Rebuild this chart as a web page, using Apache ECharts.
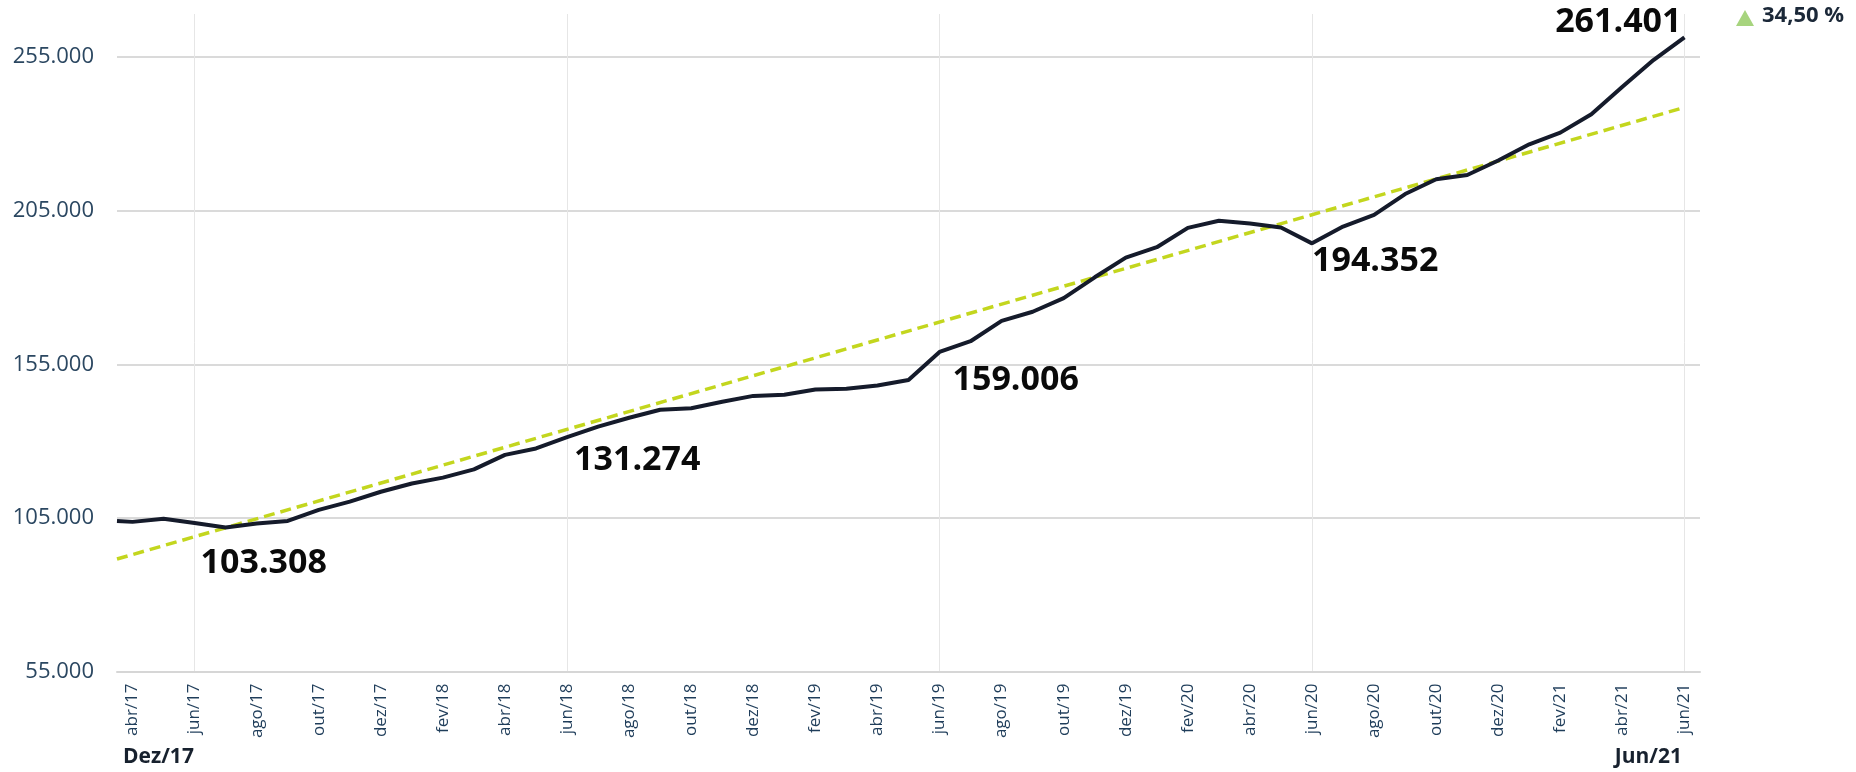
<!DOCTYPE html>
<html><head><meta charset="utf-8">
<script src="https://cdn.jsdelivr.net/npm/echarts@6/dist/echarts.min.js"></script>
<style>html,body{margin:0;padding:0;background:#fff;}#chart{width:1856px;height:772px;}</style>
</head><body><div id="chart"></div>
<script>
// ---- data ----
const categories = ['abr/17','mai/17','jun/17','jul/17','ago/17','set/17','out/17','nov/17','dez/17',
  'jan/18','fev/18','mar/18','abr/18','mai/18','jun/18','jul/18','ago/18','set/18','out/18','nov/18','dez/18',
  'jan/19','fev/19','mar/19','abr/19','mai/19','jun/19','jul/19','ago/19','set/19','out/19','nov/19','dez/19',
  'jan/20','fev/20','mar/20','abr/20','mai/20','jun/20','jul/20','ago/20','set/20','out/20','nov/20','dez/20',
  'jan/21','fev/21','mar/21','abr/21','mai/21','jun/21'];
const values = [103700,104700,103308,101900,103200,104000,107600,110300,113500,
  116200,118100,120800,125500,127600,131274,134700,137600,140200,140700,142800,144700,
  145100,146800,147000,148100,149900,159006,162500,169100,172100,176500,183300,189700,
  193100,199400,201700,200800,199500,194352,199800,203600,210400,215200,216600,221300,
  226600,230400,236400,245300,254000,261401];
const leftEdgeValue = 104000;          // where the line meets the plot's left edge
const trendX = [-0.5, 50];
const trendValues = [91600, 238600];
const annotatedIndices = [2, 14, 26, 38, 50];
const yMin = 55000, yMax = 269000, yInterval = 50000;
const periodStart = 'Dez/17', periodEnd = 'Jun/21';
const changeText = '34,50 %';

// ---- styles ----
const annotationStyle = [
  {dx: 6, dy: 40, align: 'left'},
  {dx: 7, dy: 23, align: 'left'},
  {dx: 13, dy: 28, align: 'left'},
  {dx: 0, dy: 18, align: 'left'},
  {dx: -3, dy: -15, align: 'right'}
];
const fmt = v => Math.round(v).toString().replace(/\B(?=(\d{3})+(?!\d))/g, '.');

const lineData = [[-0.5, leftEdgeValue]].concat(values.map((v, i) => [i, v]));
const junIdx = categories.map((c, i) => c.startsWith('jun') ? i : -1).filter(i => i >= 0);

const chart = echarts.init(document.getElementById('chart'), null, {renderer: 'canvas'});
chart.setOption({
  animation: false,
  backgroundColor: '#ffffff',
  grid: {left: 117, right: 156, top: 14, bottom: 100.5, containLabel: false},
  xAxis: [{
    type: 'category', data: categories, boundaryGap: true,
    axisLine: {lineStyle: {color: '#d6d6d6', width: 2}},
    axisTick: {interval: 1, length: 6, lineStyle: {color: '#d0d0d0', width: 1.5}},
    axisLabel: {interval: 1, rotate: 90, margin: 12, color: '#1f3d5a', fontSize: 17,
      fontFamily: 'Open Sans', fontWeight: 'normal'},
    splitLine: {show: false}
  }, {
    type: 'value', min: -0.5, max: 50.5, show: false,
    splitLine: {show: false}
  }],
  yAxis: {
    type: 'value', min: yMin, max: yMax, interval: yInterval,
    axisLine: {show: false}, axisTick: {show: false},
    axisLabel: {formatter: fmt, showMaxLabel: false, color: '#2b4761', fontSize: 22,
      fontFamily: 'Open Sans', fontWeight: 'normal', margin: 23},
    splitLine: {show: true, showMaxLine: false, showMinLine: false,
      lineStyle: {color: '#dadada', width: 2}}
  },
  series: [{
    type: 'line', xAxisIndex: 1, z: 2,
    data: trendX.map((x, i) => [x, trendValues[i]]),
    showSymbol: false, symbol: 'none', silent: true,
    lineStyle: {color: '#c3d61e', width: 3.5, type: [11, 6]},
    markLine: {
      silent: true, symbol: 'none', label: {show: false}, z: 0,
      lineStyle: {color: '#e6e6e6', width: 1, type: 'solid'},
      data: junIdx.map(i => ({xAxis: i}))
    }
  }, {
    type: 'line', xAxisIndex: 1, z: 3,
    data: lineData, showSymbol: false, symbol: 'none', silent: true,
    lineStyle: {color: '#151b2b', width: 4},
    markPoint: {
      silent: true, symbol: 'circle', symbolSize: 1,
      itemStyle: {color: 'rgba(0,0,0,0)'},
      data: annotatedIndices.map((idx, k) => ({
        coord: [idx, values[idx]], value: values[idx],
        label: {show: true, position: 'inside', formatter: fmt(values[idx]),
          align: annotationStyle[k].align, verticalAlign: 'middle',
          offset: [annotationStyle[k].dx, annotationStyle[k].dy],
          color: '#0a0a0a', fontSize: 34, fontWeight: 'bold', fontFamily: 'Open Sans'}
      }))
    }
  }],
  graphic: [
    {type: 'text', left: 123, top: 747, style: {text: periodStart, fill: '#17212e',
      font: 'bold 21px "Open Sans"'}},
    {type: 'text', right: 1856 - 1682, top: 747, style: {text: periodEnd, fill: '#17212e',
      font: 'bold 21px "Open Sans"'}},
    {type: 'polygon', shape: {points: [[1736, 26], [1754, 26], [1745, 10]]},
      style: {fill: '#a7d47e'}},
    {type: 'text', left: 1762, top: 5, style: {text: changeText, fill: '#1b2838',
      font: 'bold 22px "Open Sans"'}}
  ]
});
</script></body></html>
